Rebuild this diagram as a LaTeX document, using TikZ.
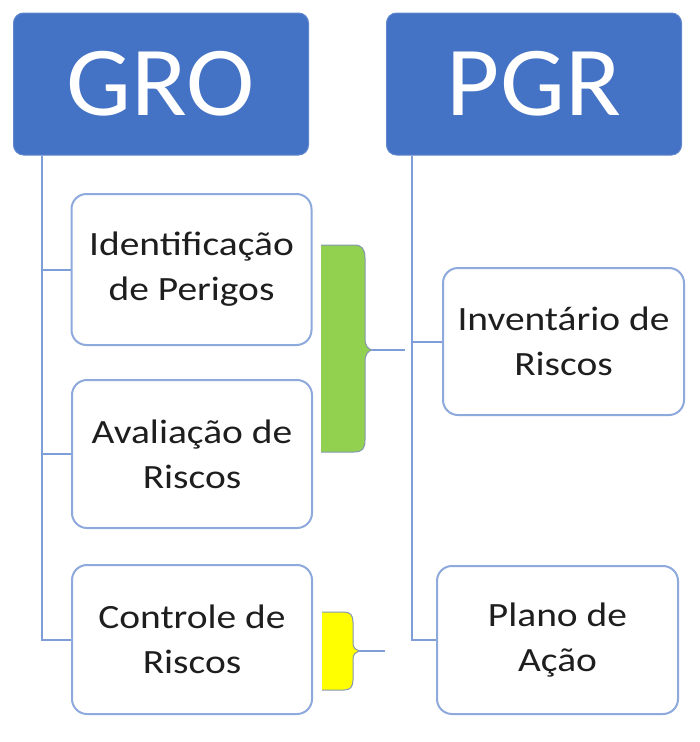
\documentclass[tikz,border=0pt]{standalone}
\usepackage{fontspec}
\setmainfont{Carlito}
\newfontfamily\childfont[FakeStretch=1.16]{Carlito}
\newfontfamily\headfont[FakeStretch=1.04]{Carlito}
\definecolor{hdrblue}{HTML}{4472C4}
\definecolor{boxline}{HTML}{8EA9DB}
\definecolor{conline}{HTML}{7F9ED8}
\definecolor{txtgray}{HTML}{1E1E1E}
\definecolor{brgreen}{HTML}{92D050}
\definecolor{bryellow}{HTML}{FFFF00}
\definecolor{brline}{HTML}{8497B0}
\tikzset{
  header/.style={fill=hdrblue, draw=hdrblue!85!white, line width=1pt, rounded corners=10pt,
    text=white, font=\headfont\fontsize{99}{100}\selectfont, minimum width=295pt, minimum height=142pt, inner sep=0pt},
  child/.style={fill=white, draw=boxline, line width=2pt, rounded corners=15pt, text=txtgray,
    font=\childfont\fontsize{34}{45}\selectfont, align=center, minimum width=240pt, minimum height=148pt, inner sep=0pt},
  conn/.style={draw=conline, line width=2pt},
  bracket/.style={draw=brline, line width=1pt},
}
\begin{document}
\begin{tikzpicture}[x=1pt,y=-1pt]
\useasboundingbox (0,0) rectangle (700,742);
\fill[white] (0,0) rectangle (700,742);
\node[header] (GRO) at (161,84) {GRO};
\node[header] (PGR) at (534,84) {PGR};
\coordinate (GL) at ([xshift=29pt]GRO.south west);
\coordinate (PL) at ([xshift=26pt]PGR.south west);
\node[child, minimum height=151pt] (Ident) at (191.5,269.5) {Identificação\\de Perigos};
\node[child] (Aval) at (192,454) {Avaliação de\\Riscos};
\node[child, minimum height=149pt] (Contr) at (192,639.5) {Controle de\\Riscos};
\node[child, minimum width=241pt, minimum height=147pt] (Invent) at (563.5,341.5) {Inventário de\\Riscos};
\node[child, minimum width=241pt] (Plano) at (557.5,640) {Plano de\\Ação};
\draw[conn] (GL) |- (Ident.west);
\draw[conn] (GL) |- (Aval.west);
\draw[conn] (GL) |- (Contr.west);
\draw[conn] (PL) |- (Invent.west);
\draw[conn] (PL) |- (Plano.west);
% green bracket
\coordinate (gtip) at (372,350);
\coordinate (gend) at (405,350);
\fill[brgreen] (321,245) -- (354,245) .. controls (362,245) and (365,249) .. (365,258)
  -- (365,338) .. controls (365,346) and (368,349) .. (gtip)
  .. controls (368,351) and (365,354) .. (365,362)
  -- (365,440) .. controls (365,449) and (362,452) .. (354,452) -- (321,452) -- cycle;
\draw[bracket] (321,245) -- (354,245) .. controls (362,245) and (365,249) .. (365,258)
  -- (365,338) .. controls (365,346) and (368,349) .. (gtip)
  .. controls (368,351) and (365,354) .. (365,362)
  -- (365,440) .. controls (365,449) and (362,452) .. (354,452) -- (321,452);
\draw[bracket, draw=conline, line width=1.5pt] (gtip) -- (gend);
% yellow bracket
\coordinate (ytip) at (359,651);
\coordinate (yend) at (385,651);
\fill[bryellow] (322,612) -- (344,612) .. controls (350,612) and (353,615) .. (353,622)
  -- (353,643) .. controls (353,648) and (356,650) .. (ytip)
  .. controls (356,652) and (353,654) .. (353,659)
  -- (353,680) .. controls (353,687) and (350,690) .. (344,690) -- (322,690) -- cycle;
\draw[bracket] (322,612) -- (344,612) .. controls (350,612) and (353,615) .. (353,622)
  -- (353,643) .. controls (353,648) and (356,650) .. (ytip)
  .. controls (356,652) and (353,654) .. (353,659)
  -- (353,680) .. controls (353,687) and (350,690) .. (344,690) -- (322,690);
\draw[bracket, draw=conline, line width=1.5pt] (ytip) -- (yend);
\end{tikzpicture}
\end{document}
